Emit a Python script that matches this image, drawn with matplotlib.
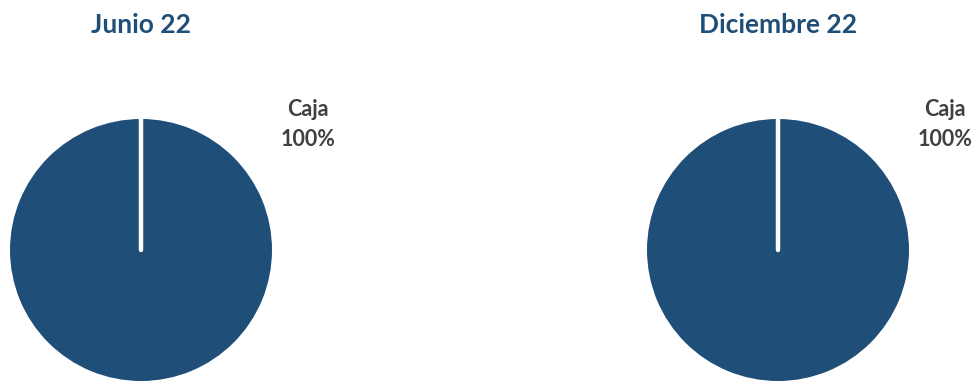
import matplotlib.pyplot as plt

periods = ["Junio 22", "Diciembre 22"]
categories = ["Caja"]
shares_jun = [100]
shares_dic = [100]

BLUE = "#1f4e79"
GREY = "#404040"
W, H = 976, 381

fig = plt.figure(figsize=(W / 100, H / 100), dpi=100)
ax = fig.add_axes([0, 0, 1, 1])

centers = [(141, H - 250), (778, H - 250)]
radius = 131
for title, vals, (cx, cy) in zip(periods, [shares_jun, shares_dic], centers):
    ax.pie(vals, colors=[BLUE], center=(cx, cy), radius=radius, startangle=90,
           counterclock=False, frame=True)
    # white separator where the single slice starts and ends
    ax.plot([cx, cx], [cy, cy + radius + 2], color="white", lw=3.2,
            solid_capstyle="round")
    ax.text(cx, H - 25, title, ha="center", va="center", color=BLUE,
            fontsize=19, fontweight="bold", family="Lato")
    ax.text(cx + 167, H - 110, categories[0], ha="center", va="center",
            color=GREY, fontsize=15.5, fontweight="bold", family="Lato")
    ax.text(cx + 167, H - 140, f"{vals[0]}%", ha="center", va="center",
            color=GREY, fontsize=15.5, fontweight="bold", family="Lato")

ax.set_xlim(0, W)
ax.set_ylim(0, H)
ax.set_aspect("equal")
ax.axis("off")
fig.savefig("out.png", dpi=100)
